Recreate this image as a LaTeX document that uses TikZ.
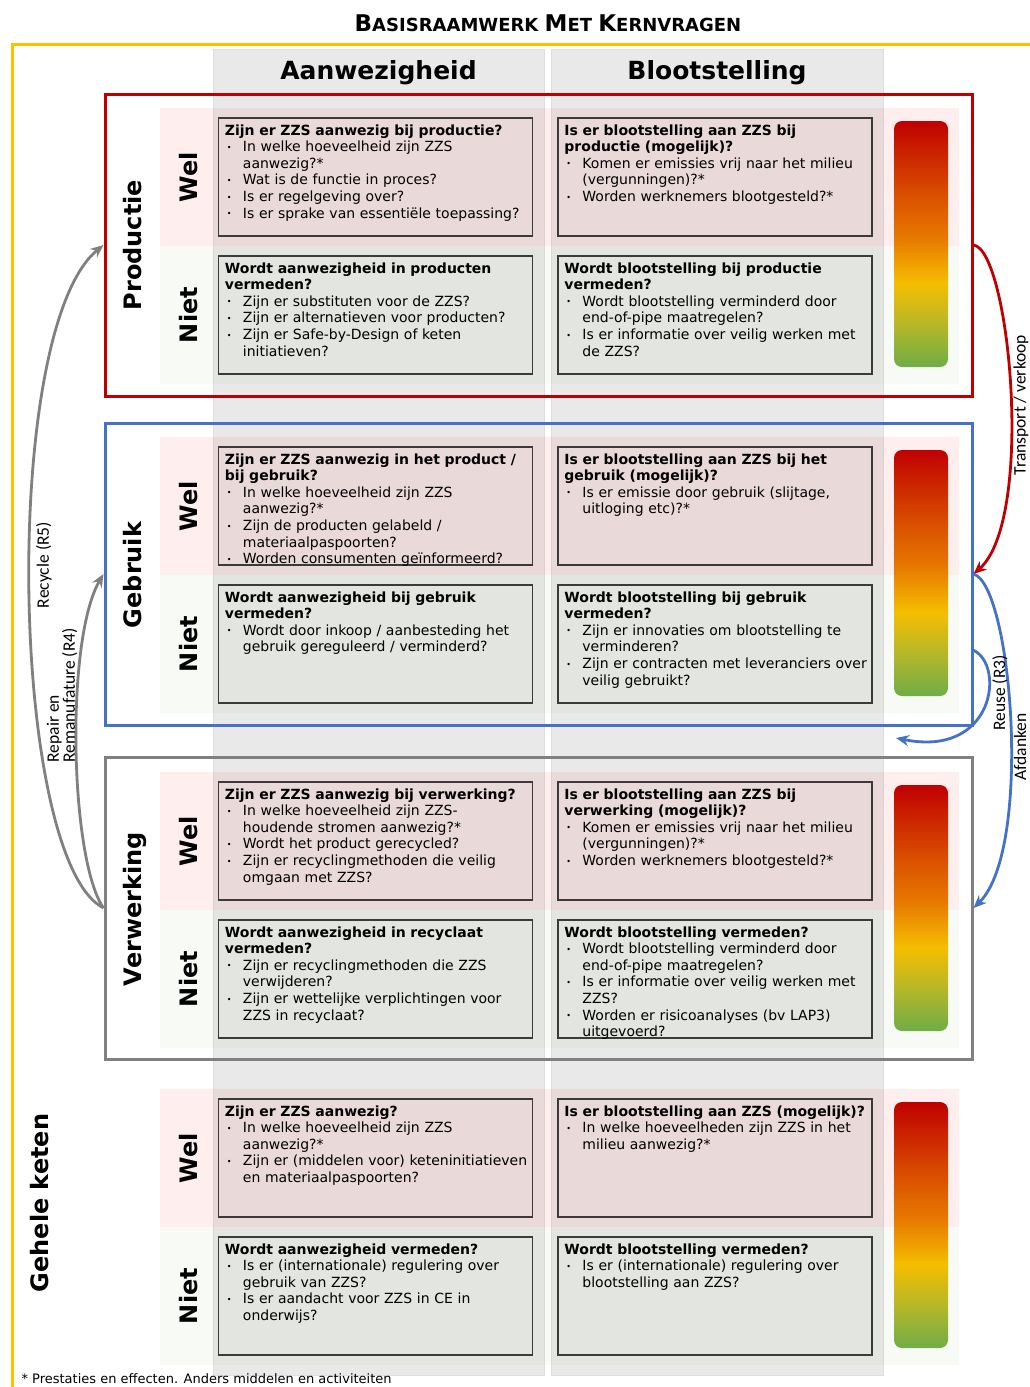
\documentclass[tikz,border=0pt]{standalone}
\usepackage{fontspec}
\setmainfont{DejaVu Sans}
\newfontfamily\arrowfont{Carlito}
\usetikzlibrary{arrows.meta,calc}

\definecolor{prodred}{HTML}{C00000}
\definecolor{gebrblue}{HTML}{4472C4}
\definecolor{verwgray}{HTML}{808080}
\definecolor{framegold}{HTML}{FFC000}
\definecolor{colgray}{HTML}{E9E9E9}
\definecolor{boxline}{HTML}{3A3A3A}
\definecolor{welpink}{HTML}{FF0000}
\definecolor{nietgreen}{HTML}{70A046}
\definecolor{barred}{HTML}{C00000}
\definecolor{barredorange}{HTML}{D84A00}
\definecolor{barorange}{HTML}{E87A00}
\definecolor{baryellow}{HTML}{F5BE00}
\definecolor{barlime}{HTML}{B8B826}
\definecolor{bargreen}{HTML}{70AD47}

\pgfdeclareverticalshading{riskbar}{100bp}{color(0bp)=(bargreen); color(25bp)=(bargreen);
  color(34bp)=(barlime); color(42bp)=(baryellow); color(51bp)=(barorange);
  color(61bp)=(barredorange); color(75bp)=(barred); color(100bp)=(barred)}

\tikzset{
  secframe/.style={draw=#1, line width=3pt, minimum width=867pt, minimum height=302pt, inner sep=0pt},
  colbox/.style={fill=colgray, draw=black!13, line width=0.8pt, minimum height=1326pt, inner sep=0pt},
  colhead/.style={anchor=base, font=\fontsize{25}{25}\selectfont\bfseries},
  qbox/.style={draw=boxline, line width=1.5pt, minimum width=314pt, minimum height=118pt, inner sep=0pt},
  qtext/.style={anchor=north west, inner sep=0pt, text width=330pt, align=left, font=\fontsize{14}{16.6}\selectfont},
  rowlabel/.style={rotate=90, anchor=base, font=\fontsize{24}{24}\selectfont\bfseries},
  flowlabel/.style={rotate=90, font=\arrowfont\fontsize{17.5}{16}\selectfont},
  flow/.style={draw=#1, line width=2.8pt, -{Stealth[length=13pt,width=11pt]}}
}

% bullet line with hanging indent
\newcommand{\qbullet}{\raisebox{1.3pt}{\fontsize{8}{8}\selectfont •}}
\newcommand{\qitem}[1]{\par\hangindent=18pt\hangafter=1\noindent\makebox[18pt][l]{\hspace{2pt}\qbullet}#1\par}
\newcommand{\capsword}[2]{{\fontsize{23}{23}\selectfont #1}#2}

% one row: #1 name, #2 top of band, #3 aanw. wel, #4 bloot. wel, #5 aanw. niet, #6 bloot. niet
\newcommand{\zzsrow}[6]{%
  \fill[welpink, fill opacity=0.065] (160,#2) rectangle (959,#2+138);
  \fill[nietgreen, fill opacity=0.05] (160,#2+138) rectangle (959,#2+276);
  \node[rowlabel] (#1-wel) at (197,#2+69) {Wel};
  \node[rowlabel] (#1-niet) at (197,#2+207) {Niet};
  \node[qbox] (#1-aw) at (375.5,#2+69) {};
  \node[qbox] (#1-bw) at (715,#2+69) {};
  \node[qbox] (#1-an) at (375.5,#2+207) {};
  \node[qbox] (#1-bn) at (715,#2+207) {};
  \node[qtext] (#1-aw-q) at ([shift={(7,7)}]#1-aw.north west) {#3};
  \node[qtext] (#1-bw-q) at ([shift={(7,7)}]#1-bw.north west) {#4};
  \node[qtext] (#1-an-q) at ([shift={(7,7)}]#1-an.north west) {#5};
  \node[qtext] (#1-bn-q) at ([shift={(7,7)}]#1-bn.north west) {#6};
  \shade[shading=riskbar, rounded corners=8pt] (894,#2+13) rectangle (948,#2+259);
}

\begin{document}
\begin{tikzpicture}[x=1pt, y=-1pt]
    \useasboundingbox (0,0) rectangle (1029,1387);

    \node[anchor=base, font=\fontsize{18}{18}\selectfont\bfseries] (title) at (548,31)
        {\capsword{B}{ASISRAAMWERK} \capsword{M}{ET} \capsword{K}{ERNVRAGEN}};
    \draw[framegold, line width=3pt] (1060,44) -- (12,44) -- (12,1420);

    % columns
    \node[colbox, minimum width=331pt] (colA) at (378.5,712) {};
    \node[colbox, minimum width=332pt] (colB) at (717,712) {};
    \node[colhead] (headA) at (378.5,79) {Aanwezigheid};
    \node[colhead] (headB) at (717,79) {Blootstelling};

    \zzsrow{prod}{108}
        {\textbf{Zijn er ZZS aanwezig bij productie?}\qitem{In welke hoeveelheid zijn ZZS\newline aanwezig?*}\qitem{Wat is de functie in proces?}\qitem{Is er regelgeving over?}\qitem{Is er sprake van essentiële toepassing?}}
        {\textbf{Is er blootstelling aan ZZS bij\newline productie (mogelijk)?}\qitem{Komen er emissies vrij naar het milieu\newline (vergunningen)?*}\qitem{Worden werknemers blootgesteld?*}}
        {\textbf{Wordt aanwezigheid in producten\newline vermeden?}\qitem{Zijn er substituten voor de ZZS?}\qitem{Zijn er alternatieven voor producten?}\qitem{Zijn er Safe-by-Design of keten\newline initiatieven?}}
        {\textbf{Wordt blootstelling bij productie\newline vermeden?}\qitem{Wordt blootstelling verminderd door\newline end-of-pipe maatregelen?}\qitem{Is er informatie over veilig werken met\newline de ZZS?}}
    \zzsrow{gebr}{437}
        {\textbf{Zijn er ZZS aanwezig in het product /\newline bij gebruik?}\qitem{In welke hoeveelheid zijn ZZS\newline aanwezig?*}\qitem{Zijn de producten gelabeld /\newline materiaalpaspoorten?}\qitem{Worden consumenten geïnformeerd?}}
        {\textbf{Is er blootstelling aan ZZS bij het\newline gebruik (mogelijk)?}\qitem{Is er emissie door gebruik (slijtage,\newline uitloging etc)?*}}
        {\textbf{Wordt aanwezigheid bij gebruik\newline vermeden?}\qitem{Wordt door inkoop / aanbesteding het\newline gebruik gereguleerd / verminderd?}}
        {\textbf{Wordt blootstelling bij gebruik\newline vermeden?}\qitem{Zijn er innovaties om blootstelling te\newline verminderen?}\qitem{Zijn er contracten met leveranciers over\newline veilig gebruikt?}}
    \zzsrow{verw}{772}
        {\textbf{Zijn er ZZS aanwezig bij verwerking?}\qitem{In welke hoeveelheid zijn ZZS-\newline houdende stromen aanwezig?*}\qitem{Wordt het product gerecycled?}\qitem{Zijn er recyclingmethoden die veilig\newline omgaan met ZZS?}}
        {\textbf{Is er blootstelling aan ZZS bij\newline verwerking (mogelijk)?}\qitem{Komen er emissies vrij naar het milieu\newline (vergunningen)?*}\qitem{Worden werknemers blootgesteld?*}}
        {\textbf{Wordt aanwezigheid in recyclaat\newline vermeden?}\qitem{Zijn er recyclingmethoden die ZZS\newline verwijderen?}\qitem{Zijn er wettelijke verplichtingen voor\newline ZZS in recyclaat?}}
        {\textbf{Wordt blootstelling vermeden?}\qitem{Wordt blootstelling verminderd door\newline end-of-pipe maatregelen?}\qitem{Is er informatie over veilig werken met\newline ZZS?}\qitem{Worden er risicoanalyses (bv LAP3)\newline uitgevoerd?}}
    \zzsrow{keten}{1089}
        {\textbf{Zijn er ZZS aanwezig?}\qitem{In welke hoeveelheid zijn ZZS\newline aanwezig?*}\qitem{Zijn er (middelen voor) keteninitiatieven\newline en materiaalpaspoorten?}}
        {\textbf{Is er blootstelling aan ZZS (mogelijk)?}\qitem{In welke hoeveelheden zijn ZZS in het\newline milieu aanwezig?*}}
        {\textbf{Wordt aanwezigheid vermeden?}\qitem{Is er (internationale) regulering over\newline gebruik van ZZS?}\qitem{Is er aandacht voor ZZS in CE in\newline onderwijs?}}
        {\textbf{Wordt blootstelling vermeden?}\qitem{Is er (internationale) regulering over\newline blootstelling aan ZZS?}}

    % phases
    \node[secframe=prodred] (productie) at (538.5,245) {};
    \node[secframe=gebrblue] (gebruik) at (538.5,574) {};
    \node[secframe=verwgray] (verwerking) at (538.5,908) {};
    \node[rowlabel] (productie-lab) at (141,245) {Productie};
    \node[rowlabel] (gebruik-lab) at (141,575) {Gebruik};
    \node[rowlabel] (verwerking-lab) at (141,909) {Verwerking};
    \node[rowlabel] (keten-lab) at (48,1203) {Gehele keten};

    % flows
    \coordinate (reuse-start) at ($(gebruik.south east)!0.25!(gebruik.north east)$);
    \coordinate (reuse-end) at (896,738);
    \draw[flow=verwgray] (verwerking.west) .. controls (10,860) and (0,330) .. (productie.west);
    \draw[flow=verwgray] (verwerking.west) .. controls (70,860) and (65,640) .. (gebruik.west);
    \draw[flow=prodred] (productie.east) .. controls (1010,250) and (1035,520) .. (gebruik.east);
    \draw[flow=gebrblue] (gebruik.east) .. controls (1012,585) and (1033,850) .. (verwerking.east);
    \draw[flow=gebrblue] (reuse-start) .. controls (1005,665) and (995,758) .. (reuse-end);
    \node[flowlabel] (recycle-lab) at (44,565) {Recycle (R5)};
    \node[flowlabel, anchor=west, align=left] (repair-lab) at (62,766) {Repair en\\Remanufature (R4)};
    \node[flowlabel] (transport-lab) at (1021,405) {Transport / verkoop};
    \node[flowlabel] (reuse-lab) at (1000,693) {Reuse (R3)};
    \node[flowlabel] (afdanken-lab) at (1020,747) {Afdanken};

    \node[anchor=base west, font=\fontsize{13}{15}\selectfont] (footnote) at (18,1383.5)
        {* Prestaties en effecten. Anders middelen en activiteiten};
\end{tikzpicture}
\end{document}
